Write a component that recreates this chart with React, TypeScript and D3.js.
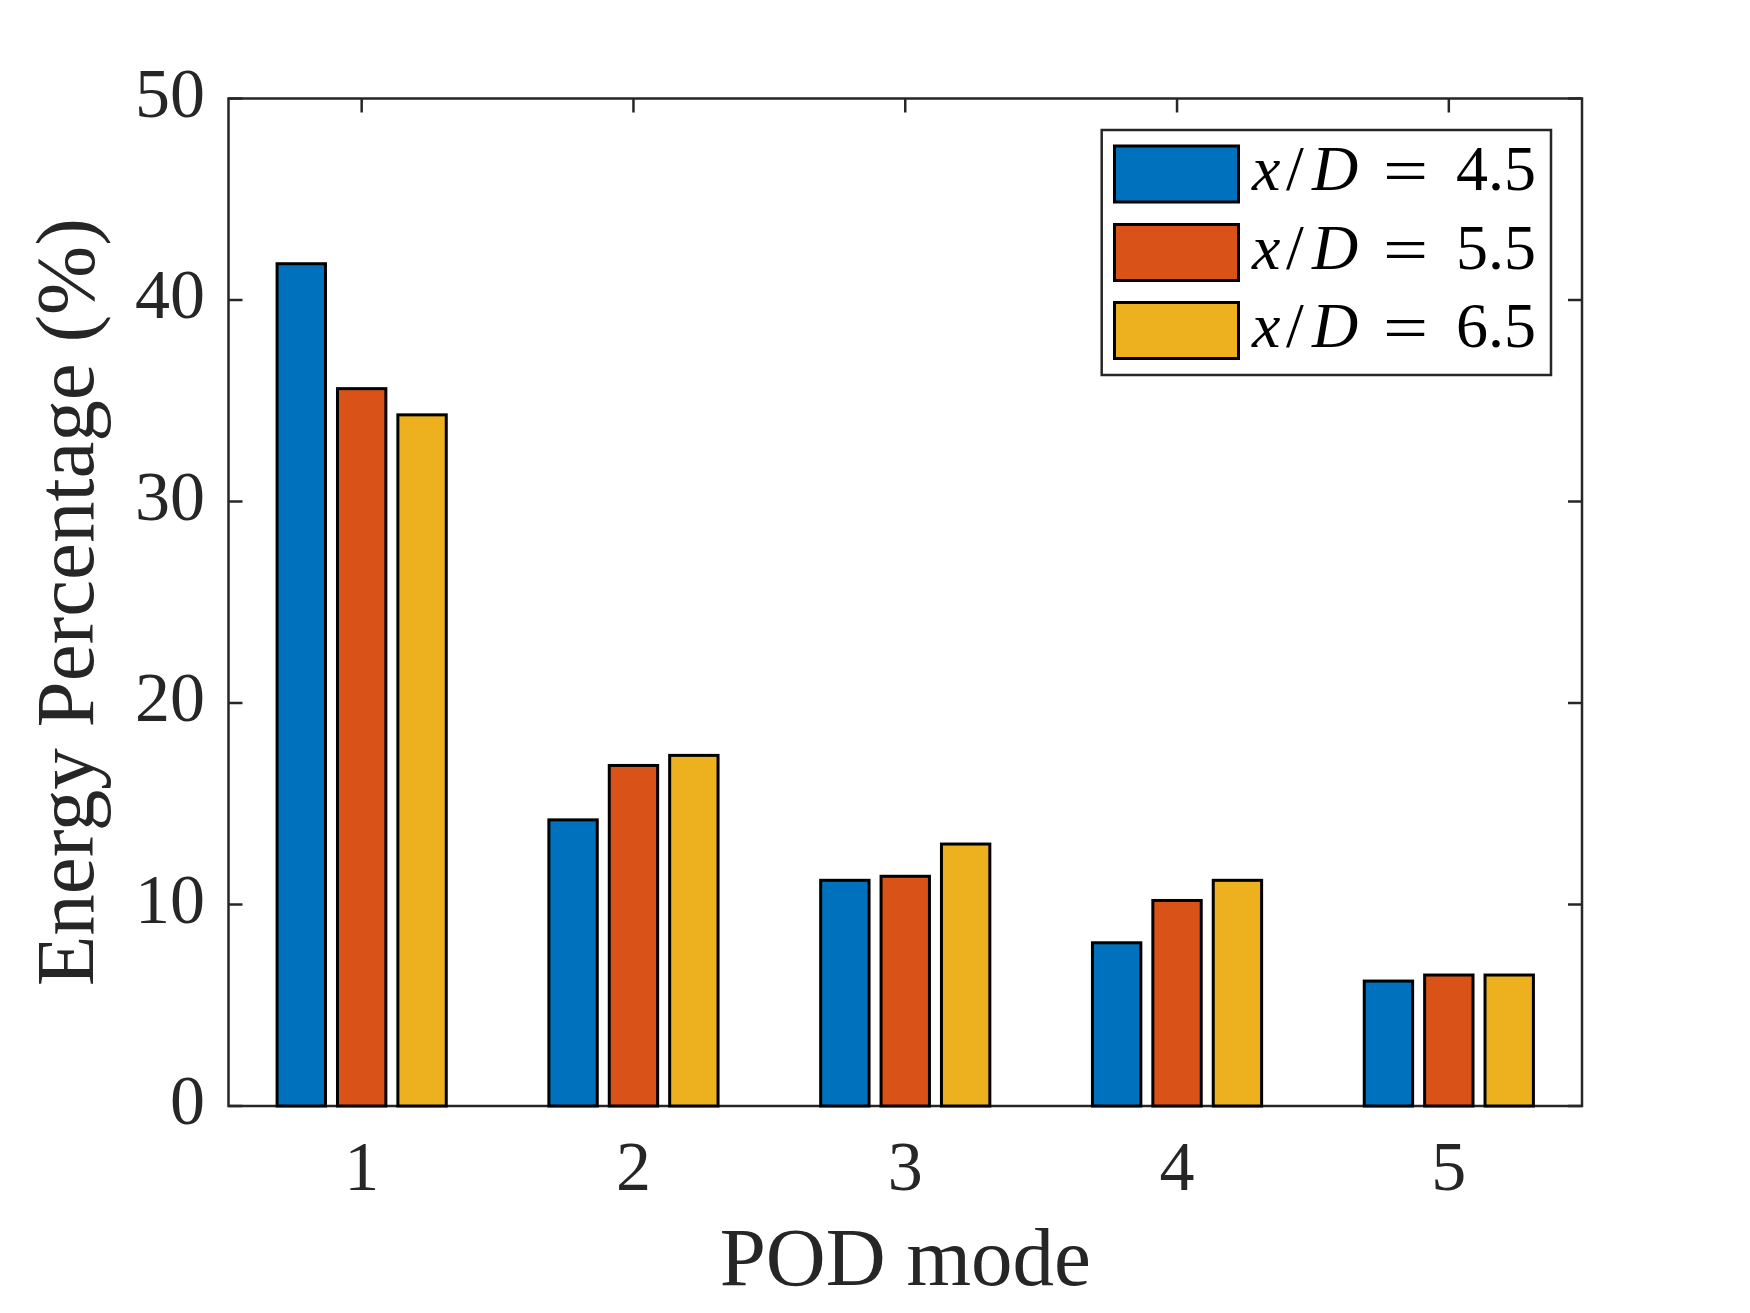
import React from "react";
import * as d3 from "d3";

const categories = [1, 2, 3, 4, 5];
const seriesNames = ["4.5", "5.5", "6.5"];
const series45 = [41.8, 14.2, 11.2, 8.1, 6.2];
const series55 = [35.6, 16.9, 11.4, 10.2, 6.5];
const series65 = [34.3, 17.4, 13.0, 11.2, 6.5];
const seriesColors = ["#0072BD", "#D95319", "#EDB120"];
const yTicks = [0, 10, 20, 30, 40, 50];

const W = 1750;
const H = 1313;
const L = 228.5;
const R = 1582;
const T = 98.5;
const B = 1106;
const INK = "#262626";
const FONT = "'Liberation Serif', 'Times New Roman', serif";

export default function App() {
  const allSeries = [series45, series55, series65];
  const x = d3.scaleLinear().domain([0.51, 5.49]).range([L, R]);
  const y = d3.scaleLinear().domain([0, 50]).range([B, T]);
  const unit = x(1) - x(0);
  const groupStep = 0.2222;
  const barW = 0.178 * unit;
  const tickLen = 14;

  const legendRows = [174, 252.5, 330.5];

  return (
    <svg
      width={W}
      height={H}
      style={{ position: "absolute", left: 0, top: 0, background: "#fff" }}
    >
      <rect x={0} y={0} width={W} height={H} fill="#fff" />
      {/* ticks (drawn below bars) */}
      <g stroke={INK} strokeWidth={2.5}>
        {yTicks.map((t) => (
          <g key={"yt" + t}>
            <line x1={L} x2={L + tickLen} y1={y(t)} y2={y(t)} />
            <line x1={R} x2={R - tickLen} y1={y(t)} y2={y(t)} />
          </g>
        ))}
        {categories.map((c) => (
          <g key={"xt" + c}>
            <line x1={x(c)} x2={x(c)} y1={T} y2={T + tickLen} />
            <line x1={x(c)} x2={x(c)} y1={B} y2={B - tickLen} />
          </g>
        ))}
      </g>
      <rect
        x={L}
        y={T}
        width={R - L}
        height={B - T}
        fill="none"
        stroke={INK}
        strokeWidth={2.5}
      />
      {/* bars */}
      {allSeries.map((s, si) =>
        s.map((v, ci) => {
          const cx = x(categories[ci] + (si - 1) * groupStep);
          return (
            <rect
              key={`b${si}-${ci}`}
              x={cx - barW / 2}
              y={y(v)}
              width={barW}
              height={y(0) - y(v)}
              fill={seriesColors[si]}
              stroke="#000"
              strokeWidth={3}
            />
          );
        })
      )}
      {/* y tick labels */}
      {yTicks.map((t) => (
        <text
          key={"yl" + t}
          x={205}
          y={y(t) + 18}
          textAnchor="end"
          fontFamily={FONT}
          fontSize={70}
          fill={INK}
        >
          {t}
        </text>
      ))}
      {/* x tick labels */}
      {categories.map((c) => (
        <text
          key={"xl" + c}
          x={x(c)}
          y={1190}
          textAnchor="middle"
          fontFamily={FONT}
          fontSize={70}
          fill={INK}
        >
          {c}
        </text>
      ))}
      {/* axis labels */}
      <text
        x={(L + R) / 2}
        y={1285}
        textAnchor="middle"
        fontFamily={FONT}
        fontSize={83}
        fill={INK}
      >
        POD mode
      </text>
      <text
        transform={`translate(93,${(T + B) / 2}) rotate(-90)`}
        textAnchor="middle"
        fontFamily={FONT}
        fontSize={83}
        fill={INK}
      >
        Energy Percentage (%)
      </text>
      {/* legend */}
      <rect
        x={1101.7}
        y={130}
        width={1551 - 1101.7}
        height={375 - 130}
        fill="#fff"
        stroke={INK}
        strokeWidth={2.5}
      />
      {seriesNames.map((n, i) => {
        const cy = legendRows[i];
        const base = cy + 16;
        return (
          <g key={"lg" + n}>
            <rect
              x={1114.5}
              y={cy - 28}
              width={124}
              height={56}
              fill={seriesColors[i]}
              stroke="#000"
              strokeWidth={3}
            />
            <text fontFamily={FONT} fontSize={64} fill="#000" y={base}>
              <tspan x={1252} fontStyle="italic">x</tspan>
              <tspan x={1286}>/</tspan>
              <tspan x={1312} fontStyle="italic">D</tspan>
            </text>
            <text
              fontFamily={FONT}
              fontSize={64}
              fill="#000"
              transform={`translate(1383,${base + 2}) scale(1.25,1)`}
            >
              =
            </text>
            <text fontFamily={FONT} fontSize={64} fill="#000" x={1456} y={base}>
              {n}
            </text>
          </g>
        );
      })}
    </svg>
  );
}
